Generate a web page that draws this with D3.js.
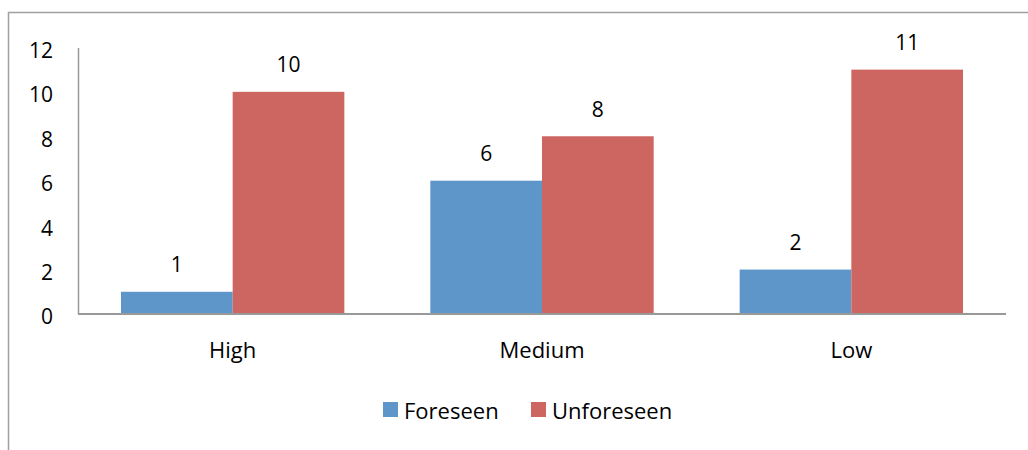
<!DOCTYPE html>
<html><head><meta charset="utf-8">
<script src="https://cdn.jsdelivr.net/npm/d3@7"></script>
<style>body{margin:0;background:#fff}svg{display:block}text{font-family:"Open Sans","Noto Sans",sans-serif;fill:#000}</style>
</head><body>
<svg id="c" width="1028" height="450"></svg>
<script>
const categories = ["High", "Medium", "Low"];
const seriesNames = ["Foreseen", "Unforeseen"];
const foreseen = [1, 6, 2];
const unforeseen = [10, 8, 11];
const yTicks = [0, 2, 4, 6, 8, 10, 12];
const colors = ["#5f96ca", "#cd6660"];
const FONT = '"Open Sans","Noto Sans",sans-serif';

const svg = d3.select("#c");
// outer frame (cropped at right/bottom)
svg.append("path").attr("d", "M8.5,460V12.5H1040").attr("fill", "none").attr("stroke", "#a0a0a0").attr("stroke-width", 1.5);

const m = {l: 78, r: 1006, t: 47.4, b: 314};
const x0 = d3.scaleBand().domain(categories).range([m.l, m.r]).paddingInner(0.278).paddingOuter(0.139);
const x1 = d3.scaleBand().domain(seriesNames).range([0, x0.bandwidth()]);
const y = d3.scaleLinear().domain([0, 12]).range([m.b, m.t]);

const data = categories.map((c, i) => ({c, vals: [foreseen[i], unforeseen[i]]}));

const g = svg.append("g");
const groups = g.selectAll("g.cat").data(data).join("g").attr("transform", d => `translate(${x0(d.c)},0)`);
groups.selectAll("rect").data(d => d.vals.map((v, k) => ({v, k}))).join("rect")
  .attr("x", d => x1(seriesNames[d.k]))
  .attr("y", d => y(d.v))
  .attr("width", x1.bandwidth())
  .attr("height", d => y(0) - y(d.v))
  .attr("fill", d => colors[d.k]);
groups.selectAll("text.lbl").data(d => d.vals.map((v, k) => ({v, k}))).join("text").attr("class", "lbl")
  .attr("x", d => x1(seriesNames[d.k]) + x1.bandwidth() / 2)
  .attr("y", d => y(d.v) - 19.5)
  .attr("text-anchor", "middle").attr("font-size", 21)
  .text(d => d.v);

// y axis
const ya = svg.append("g").attr("transform", `translate(${m.l},0)`)
  .call(d3.axisLeft(y).tickValues(yTicks).tickSize(0).tickPadding(25));
ya.select(".domain").attr("stroke", "#999").attr("stroke-width", 1.5);
ya.selectAll("text").attr("font-size", 21).attr("dy", "0.47em").attr("font-family", FONT).attr("fill", "#000");

// x axis
const xa = svg.append("g").attr("transform", `translate(0,${m.b})`)
  .call(d3.axisBottom(x0).tickSize(0));
xa.select(".domain").attr("d", `M${m.l},0H${m.r}`).attr("stroke", "#999").attr("stroke-width", 2);
xa.selectAll("text").attr("font-size", 22).attr("y", 44).attr("dy", 0).attr("font-family", FONT).attr("fill", "#000");

// legend
const legX = [383, 531];
const lg = svg.append("g");
seriesNames.forEach((s, k) => {
  lg.append("rect").attr("x", legX[k]).attr("y", 402).attr("width", 15).attr("height", 15).attr("fill", colors[k]);
  lg.append("text").attr("x", legX[k] + 21).attr("y", 419).attr("font-size", 22).text(s);
});
</script>
</body></html>
